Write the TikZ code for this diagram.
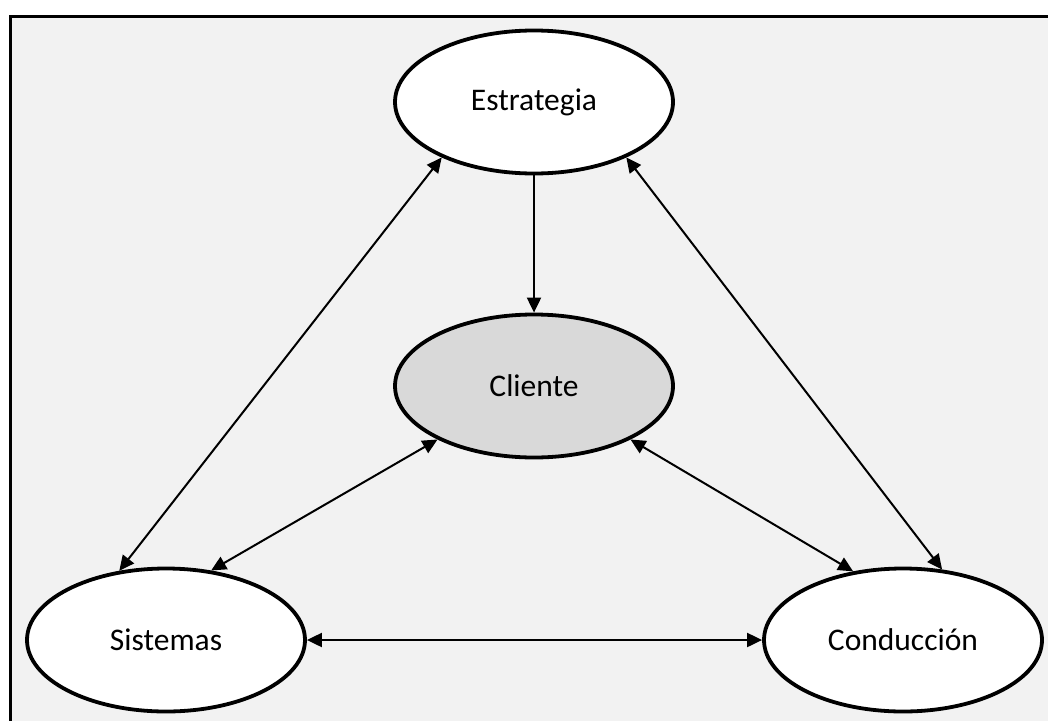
\documentclass[tikz,border=0pt]{standalone}
\usepackage{fontspec}
\setmainfont{Carlito}
\usetikzlibrary{shapes.geometric,arrows.meta}
\definecolor{panel}{HTML}{F2F2F2}
\definecolor{hub}{HTML}{D9D9D9}
\tikzset{
  tip/.tip={Triangle[length=15pt,width=14pt]},
  bubble/.style={ellipse, draw=black, line width=3.8pt, fill=white,
    minimum width=278pt, minimum height=143pt, inner sep=0pt,
    font=\fontsize{31.5}{36}\selectfont},
  link/.style={line width=2pt, -tip},
  biline/.style={line width=2pt, tip-tip}
}
\begin{document}
\begin{tikzpicture}[x=1pt,y=-1pt]
  \useasboundingbox (0,0) rectangle (1048,720);
  % framed panel
  \fill[white] (0,0) rectangle (1048,720);
  \draw[fill=panel, line width=3pt] (10,16) rectangle (1080,760);
  % the four ellipses
  \node[bubble] (est) at (534,102) {Estrategia};
  \node[bubble, fill=hub] (cli) at (534,386) {Cliente};
  \node[bubble] (sis) at (166,640) {Sistemas};
  \node[bubble] (con) at (903,640) {Conducción};
  % connectors
  \draw[link] (est.south) -- (cli.north);
  \draw[biline] (est.211) -- (sis.124);
  \draw[biline] (est.329) -- (con.61);
  \draw[biline] (cli.209) -- (sis.57);
  \draw[biline] (cli.331) -- (con.126);
  \draw[biline] (sis.east) -- (con.west);
\end{tikzpicture}
\end{document}
